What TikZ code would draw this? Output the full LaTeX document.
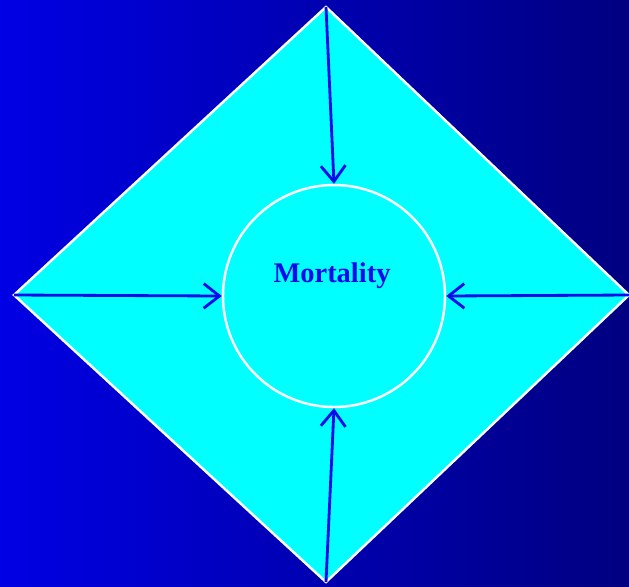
\documentclass[tikz,border=0pt]{standalone}
\usepackage{fontspec}
\setmainfont{Liberation Serif}
\usetikzlibrary{arrows.meta}
\definecolor{bgl}{RGB}{0,0,228}
\definecolor{bgr}{RGB}{0,0,128}
\definecolor{arr}{RGB}{10,10,235}
\definecolor{cyanf}{RGB}{0,255,255}
\tikzset{
  arrowline/.style={draw=arr, line width=1.6pt, -{Straight Barb[length=9pt,width=14pt,line width=1.6pt]}},
  border/.style={draw=white, line width=1.4pt},
}
\begin{document}
\begin{tikzpicture}[x=0.02cm,y=-0.02cm]
\useasboundingbox (0,0) rectangle (629,586);
\shade[left color=bgl, right color=bgr] (0,0) rectangle (629,586);
\coordinate (T) at (326,7);
\coordinate (L) at (14,295);
\coordinate (R) at (629,295);
\coordinate (B) at (326,582);
\fill[cyanf] (T) -- (R) -- (B) -- (L) -- cycle;
\draw[border, line join=miter] (R) -- (T) -- (L) -- (B) -- (R);
\node[circle, border, minimum size=222*0.02cm, inner sep=0pt] (C) at (334,296) {};
\node[text=arr, font=\bfseries\fontsize{16.2}{19}\selectfont] (M) at (332,276) {Mortality};
\draw[arrowline] (T) -- (C.north);
\draw[arrowline] (B) -- (C.south);
\draw[arrowline] (L) -- (C.west);
\draw[arrowline] (R) -- (C.east);
\end{tikzpicture}
\end{document}
